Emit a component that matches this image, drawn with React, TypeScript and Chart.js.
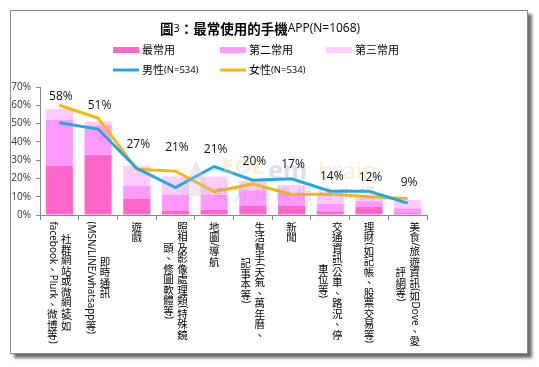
import React, { useEffect, useRef } from "react";
import { Chart, registerables } from "chart.js";
Chart.register(...registerables);

const CJK = "'Noto Sans CJK TC'";
const LAT = "'Open Sans'";

const titleText = "圖3：最常使用的手機APP(N=1068)";

const categoryLines: string[][] = [
  ["社群網站或微網誌(如", "facebook、Plurk、微博等)"],
  ["即時通訊", "(MSN/LINE/whatsapp等)"],
  ["遊戲"],
  ["照相及影像處理類(特殊鏡", "頭、修圖軟體等)"],
  ["地圖/導航"],
  ["生活幫手(天氣、萬年曆、", "記事本等)"],
  ["新聞"],
  ["交通資訊(公車、路況、停", "車位等)"],
  ["理財(如記帳、股票交易等)"],
  ["美食/旅遊資訊(如Dove、愛", "評網等)"],
];

const mostUsed = [27, 33, 9, 2.5, 3, 5, 5, 2, 4.5, 1];
const secondUsed = [25, 16, 7, 8.5, 8, 8.5, 7, 4, 3, 2.7];
const thirdUsed = [6, 2, 11, 10, 10, 5, 4.5, 5.5, 2.5, 4.5];
const maleSeries = [50.5, 47, 25.5, 15, 26.5, 19, 19.8, 13, 13, 6.5];
const femaleSeries = [60, 53, 25, 24, 12.8, 17, 11.2, 11.5, 10, 9];
const totalLabels = ["58%", "51%", "27%", "21%", "21%", "20%", "17%", "14%", "12%", "9%"];
const totalLabelLevels = [65, 60, 38.5, 36.8, 35.7, 29.3, 27.5, 21, 20.5, 17.7];
const yTickMax = 70;
const yTickStep = 10;

const seriesNames = ["最常用", "第二常用", "第三常用", "男性(N=534)", "女性(N=534)"];
const seriesColors = ["#FF66CC", "#FF99FF", "#FFCCFF", "#22A8E0", "#F5B80C"];

const watermarkChars = ["東", "方", "快", "線", "網", "絡", "市", "調"];

const isCJK = (ch: string) => ch.charCodeAt(0) >= 0x2e80;

const splitRuns = (text: string) => {
  const runs: { text: string; cjk: boolean }[] = [];
  for (const ch of Array.from(text)) {
    const c = isCJK(ch);
    const last = runs[runs.length - 1];
    if (last && last.cjk === c) last.text += ch;
    else runs.push({ text: ch, cjk: c });
  }
  return runs;
};

const measureMixed = (ctx: CanvasRenderingContext2D, text: string, cjkFont: string, latFont: string) => {
  let w = 0;
  for (const r of splitRuns(text)) {
    ctx.font = r.cjk ? cjkFont : latFont;
    w += ctx.measureText(r.text).width;
  }
  return w;
};

const drawMixed = (
  ctx: CanvasRenderingContext2D,
  text: string,
  x: number,
  y: number,
  cjkFont: string,
  latFont: string,
  align: "left" | "center"
) => {
  let cx = align === "center" ? x - measureMixed(ctx, text, cjkFont, latFont) / 2 : x;
  ctx.textAlign = "left";
  ctx.textBaseline = "middle";
  for (const r of splitRuns(text)) {
    ctx.font = r.cjk ? cjkFont : latFont;
    ctx.fillText(r.text, cx, y);
    cx += ctx.measureText(r.text).width;
  }
};

const VADV = 10.5;
const V_CJK = `10.5px ${CJK}`;
const V_LAT = `10px ${LAT}`;

const verticalLength = (ctx: CanvasRenderingContext2D, text: string) => {
  let h = 0;
  for (const r of splitRuns(text)) {
    if (r.cjk) h += Array.from(r.text).length * VADV;
    else {
      ctx.font = V_LAT;
      h += ctx.measureText(r.text).width;
    }
  }
  return h;
};

const drawVertical = (ctx: CanvasRenderingContext2D, text: string, x: number, yTop: number) => {
  let y = yTop;
  for (const r of splitRuns(text)) {
    if (r.cjk) {
      ctx.font = V_CJK;
      ctx.textAlign = "center";
      ctx.textBaseline = "middle";
      for (const ch of Array.from(r.text)) {
        ctx.fillText(ch, x, y + VADV / 2);
        y += VADV;
      }
    } else {
      ctx.font = V_LAT;
      const w = ctx.measureText(r.text).width;
      ctx.save();
      ctx.translate(x, y);
      ctx.rotate(Math.PI / 2);
      ctx.textAlign = "left";
      ctx.textBaseline = "middle";
      ctx.fillText(r.text, 0, 0);
      ctx.restore();
      y += w;
    }
  }
};

const decorPlugin = {
  id: "decor",
  afterDraw(chart: any) {
    const ctx: CanvasRenderingContext2D = chart.ctx;
    const xs = chart.scales.x;
    const ys = chart.scales.y;
    ctx.save();
    // faint watermark
    ctx.textBaseline = "middle";
    ctx.textAlign = "left";
    ctx.fillStyle = "rgba(200,190,210,0.35)";
    ctx.beginPath();
    ctx.moveTo(196, 160);
    ctx.lineTo(212, 196);
    ctx.lineTo(180, 196);
    ctx.closePath();
    ctx.fill();
    ctx.font = `bold 22px ${LAT}`;
    ctx.fillStyle = "rgba(250,200,140,0.35)";
    ctx.fillText("EOL", 222, 168);
    ctx.font = `bold 25px ${LAT}`;
    ctx.fillStyle = "rgba(150,170,205,0.35)";
    ctx.fillText("em", 268, 172);
    ctx.font = `24px ${LAT}`;
    ctx.fillStyle = "rgba(250,200,140,0.35)";
    ctx.fillText("brain", 318, 172);
    ctx.font = `15px ${CJK}`;
    ctx.fillStyle = "rgba(170,140,180,0.35)";
    ctx.textAlign = "center";
    watermarkChars.forEach((c, i) => ctx.fillText(c, 220 + i * 21, 193));

    ctx.fillStyle = "#000";
    // title
    {
      const runs = splitRuns(titleText);
      const fonts = runs.map((r) => (r.cjk ? `bold 13.5px ${CJK}` : r.text === "3" ? `11px ${LAT}` : `12px ${LAT}`));
      let total = 0;
      runs.forEach((r, i) => {
        ctx.font = fonts[i];
        total += ctx.measureText(r.text).width;
      });
      let cx = 260 - total / 2;
      ctx.textAlign = "left";
      ctx.textBaseline = "middle";
      runs.forEach((r, i) => {
        ctx.font = fonts[i];
        ctx.fillText(r.text, cx, 29);
        cx += ctx.measureText(r.text).width;
      });
    }
    // legend
    const legendPos = [
      [113, 50],
      [220, 50],
      [326, 50],
      [113, 70],
      [220, 70],
    ];
    chart.data.datasets.forEach((ds: any, i: number) => {
      const [lx, ly] = legendPos[i];
      if (ds.type === "line") {
        ctx.strokeStyle = ds.borderColor;
        ctx.lineWidth = 3;
        ctx.beginPath();
        ctx.moveTo(lx, ly);
        ctx.lineTo(lx + 26, ly);
        ctx.stroke();
      } else {
        ctx.fillStyle = ds.backgroundColor;
        ctx.fillRect(lx, ly - 3, 26, 6);
      }
      ctx.fillStyle = "#000";
      drawMixed(ctx, ds.label, lx + 29, ly, `11px ${CJK}`, `9.5px ${LAT}`, "left");
    });
    // value labels
    ctx.fillStyle = "#111";
    ctx.font = `12px ${LAT}`;
    ctx.textAlign = "center";
    ctx.textBaseline = "middle";
    totalLabels.forEach((t, i) => {
      ctx.fillText(t, xs.getPixelForValue(i) + 1.5, ys.getPixelForValue(totalLabelLevels[i]));
    });
    // vertical category labels
    ctx.fillStyle = "#000";
    categoryLines.forEach((lines, i) => {
      const cx = xs.getPixelForValue(i);
      const lens = lines.map((l) => verticalLength(ctx, l));
      const maxLen = Math.max(...lens);
      const n = lines.length;
      lines.forEach((l, j) => {
        const x = cx + ((n - 1) / 2) * 14 - j * 14;
        drawVertical(ctx, l, x, 221.5 + (maxLen - lens[j]) / 2);
      });
    });
    ctx.restore();
  },
};

export default function App() {
  const ref = useRef<HTMLCanvasElement>(null);
  useEffect(() => {
    if (!ref.current) return;
    const labels = categoryLines.map((l) => l.join(""));
    const chart = new Chart(ref.current, {
      type: "bar",
      data: {
        labels,
        datasets: [
          { type: "bar", label: seriesNames[0], data: mostUsed, backgroundColor: seriesColors[0], stack: "s", order: 2 },
          { type: "bar", label: seriesNames[1], data: secondUsed, backgroundColor: seriesColors[1], stack: "s", order: 2 },
          { type: "bar", label: seriesNames[2], data: thirdUsed, backgroundColor: seriesColors[2], stack: "s", order: 2 },
          {
            type: "line",
            label: seriesNames[3],
            data: maleSeries,
            borderColor: seriesColors[3],
            backgroundColor: seriesColors[3],
            borderWidth: 3,
            pointRadius: 0,
            tension: 0,
            stack: "m",
            order: 0,
          },
          {
            type: "line",
            label: seriesNames[4],
            data: femaleSeries,
            borderColor: seriesColors[4],
            backgroundColor: seriesColors[4],
            borderWidth: 3,
            pointRadius: 0,
            tension: 0,
            stack: "f",
            order: 1,
          },
        ] as any,
      },
      options: {
        animation: false,
        responsive: false,
        devicePixelRatio: 1,
        layout: { padding: { left: 0, top: 87, right: 112, bottom: 0 } },
        plugins: { legend: { display: false }, title: { display: false }, tooltip: { enabled: false } },
        datasets: { bar: { categoryPercentage: 1, barPercentage: 0.7 } },
        scales: {
          x: {
            stacked: true,
            offset: true,
            grid: { offset: true, drawOnChartArea: false, tickLength: 5, color: "#888" },
            border: { color: "#888" },
            ticks: { display: false },
            afterFit: (s: any) => {
              s.height = 152;
            },
          },
          y: {
            stacked: true,
            min: 0,
            max: yTickMax,
            ticks: {
              stepSize: yTickStep,
              callback: (v: any) => `${v}%`,
              font: { family: "Open Sans", size: 10 },
              color: "#333",
              padding: 5,
            },
            grid: { drawOnChartArea: false, tickLength: 4, color: "#888" },
            border: { color: "#888" },
            afterFit: (s: any) => {
              s.width = 40;
            },
          },
        },
      } as any,
      plugins: [decorPlugin],
    });
    return () => chart.destroy();
  }, []);
  return (
    <div style={{ position: "fixed", left: 0, top: 0, width: 539, height: 367, background: "#fff" }}>
      <div
        style={{
          position: "absolute",
          left: 10,
          top: 10,
          width: 516,
          height: 342,
          border: "1px solid #8a8a8a",
          boxShadow: "4px 4px 3px #6e6e6e",
          background: "#fff",
        }}
      />
      <canvas ref={ref} width={539} height={367} style={{ position: "absolute", left: 0, top: 0 }} />
    </div>
  );
}
